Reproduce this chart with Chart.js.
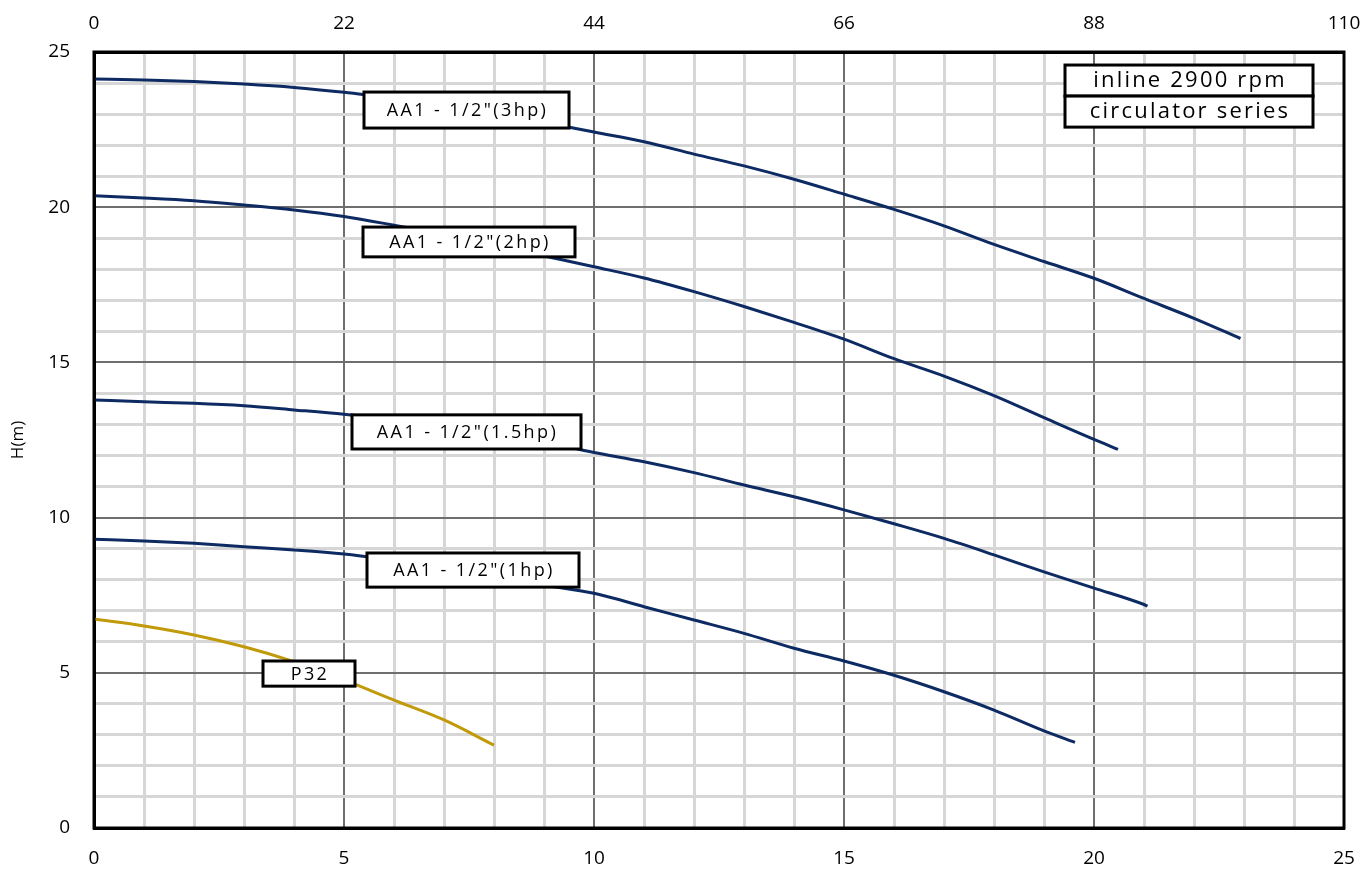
<!DOCTYPE html>
<html>
<head>
<meta charset="utf-8">
<script src="https://cdn.jsdelivr.net/npm/chart.js@4"></script>
<style>
  body { margin: 0; background: #fff; }
  canvas { display: block; }
</style>
</head>
<body>
<canvas id="pumpChart" width="1365" height="877"></canvas>
<script>
// Flow Q (m3/h, bottom axis) and head H (m)
const flow3hp = [0, 1, 2, 3, 4, 5, 6, 7, 8, 9, 10, 11, 12, 13, 14, 15, 16, 17, 18, 19, 20, 21, 22, 22.93];
const head3hp = [24.13, 24.10, 24.05, 23.97, 23.86, 23.70, 23.50, 23.28, 23.03, 22.74, 22.42, 22.11, 21.71, 21.33, 20.90, 20.42, 19.93, 19.40, 18.80, 18.25, 17.71, 17.06, 16.42, 15.77];

const flow2hp = [0, 1, 2, 3, 4, 5, 6, 7, 8, 9, 10, 11, 12, 13, 14, 15, 16, 17, 18, 19, 20, 20.48];
const head2hp = [20.37, 20.30, 20.21, 20.07, 19.91, 19.70, 19.42, 19.12, 18.78, 18.43, 18.08, 17.72, 17.28, 16.80, 16.29, 15.75, 15.12, 14.56, 13.93, 13.22, 12.52, 12.20];

const flow15hp = [0, 1, 2, 3, 4, 5, 6, 7, 8, 9, 10, 11, 12, 13, 14, 15, 16, 17, 18, 19, 20, 21, 21.07];
const head15hp = [13.79, 13.73, 13.68, 13.60, 13.47, 13.33, 13.15, 12.95, 12.72, 12.43, 12.10, 11.80, 11.45, 11.05, 10.67, 10.25, 9.80, 9.33, 8.80, 8.25, 7.73, 7.20, 7.15];

const flow1hp = [0, 1, 2, 3, 4, 5, 6, 7, 8, 9, 10, 11, 12, 13, 14, 15, 16, 17, 18, 19, 19.62];
const head1hp = [9.30, 9.25, 9.17, 9.06, 8.96, 8.83, 8.63, 8.41, 8.14, 7.83, 7.56, 7.13, 6.70, 6.27, 5.79, 5.38, 4.92, 4.39, 3.80, 3.13, 2.76];

const flowP32 = [0, 1, 2, 3, 4, 5, 6, 7, 8];
const headP32 = [6.73, 6.51, 6.22, 5.84, 5.36, 4.77, 4.12, 3.48, 2.67];

const seriesNames = ['AA1 - 1/2"(3hp)', 'AA1 - 1/2"(2hp)', 'AA1 - 1/2"(1.5hp)', 'AA1 - 1/2"(1hp)', 'P32'];

// axis ranges
const bottomMax = 25;
const topMax = 110;
const topStep = 22;
const headMax = 25;

// label boxes (in data units: q0, q1, h-top, h-bottom)
const curveLabels = [
  { text: seriesNames[0], q0: 5.40, q1: 9.50, hTop: 23.71, hBot: 22.55 },
  { text: seriesNames[1], q0: 5.38, q1: 9.62, hTop: 19.36, hBot: 18.40 },
  { text: seriesNames[2], q0: 5.16, q1: 9.74, hTop: 13.31, hBot: 12.21 },
  { text: seriesNames[3], q0: 5.46, q1: 9.70, hTop: 8.86, hBot: 7.76 },
  { text: seriesNames[4], q0: 3.38, q1: 5.22, hTop: 5.38, hBot: 4.57 }
];
const infoLines = ['inline 2900 rpm', 'circulator series'];

const navy = '#0d2a63';
const gold = '#c09a08';

function toPoints(qs, hs) {
  return qs.map((q, i) => ({ x: q, y: hs[i] }));
}

function makeSet(label, qs, hs, color) {
  return {
    label: label,
    data: toPoints(qs, hs),
    borderColor: color,
    borderWidth: 3,
    pointRadius: 0,
    fill: false,
    cubicInterpolationMode: 'monotone'
  };
}

function gridColor(ctx) {
  return ctx.tick && ctx.tick.value % 5 === 0 ? '#6e6e6e' : '#d6d6d6';
}
function gridWidth(ctx) {
  return ctx.tick && ctx.tick.value % 5 === 0 ? 2 : 3;
}

const tickFont = { family: 'Open Sans', size: 19 };

// Boxes, info panel and frame drawn on top of the curves
const overlayPlugin = {
  id: 'overlay',
  afterDatasetsDraw(chart) {
    const { ctx, chartArea, scales } = chart;
    const xs = scales.x, ys = scales.y;
    ctx.save();

    curveLabels.forEach(lb => {
      const x0 = xs.getPixelForValue(lb.q0), x1 = xs.getPixelForValue(lb.q1);
      const y0 = ys.getPixelForValue(lb.hTop), y1 = ys.getPixelForValue(lb.hBot);
      ctx.fillStyle = '#fff';
      ctx.fillRect(x0, y0, x1 - x0, y1 - y0);
      ctx.strokeStyle = '#000';
      ctx.lineWidth = 3;
      ctx.strokeRect(x0, y0, x1 - x0, y1 - y0);
      ctx.fillStyle = '#000';
      ctx.font = '18px "Open Sans"';
      ctx.letterSpacing = '2.4px';
      ctx.textAlign = 'center';
      ctx.textBaseline = 'middle';
      ctx.fillText(lb.text, (x0 + x1) / 2 + 1, (y0 + y1) / 2 + 1);
    });

    // info panel top right
    const ix0 = xs.getPixelForValue(19.42), ix1 = xs.getPixelForValue(24.38);
    const iy = [24.58, 23.58, 22.58].map(v => ys.getPixelForValue(v));
    for (let i = 0; i < infoLines.length; i++) {
      ctx.fillStyle = '#fff';
      ctx.fillRect(ix0, iy[i], ix1 - ix0, iy[i + 1] - iy[i]);
      ctx.strokeStyle = '#000';
      ctx.lineWidth = 3;
      ctx.strokeRect(ix0, iy[i], ix1 - ix0, iy[i + 1] - iy[i]);
      ctx.fillStyle = '#000';
      ctx.font = '22px "Open Sans"';
      ctx.letterSpacing = '2.2px';
      ctx.textAlign = 'center';
      ctx.textBaseline = 'middle';
      ctx.fillText(infoLines[i], (ix0 + ix1) / 2 + 1, (iy[i] + iy[i + 1]) / 2);
    }

    // plot frame
    ctx.letterSpacing = '0px';
    ctx.strokeStyle = '#000';
    ctx.lineWidth = 3;
    ctx.strokeRect(chartArea.left, chartArea.top, chartArea.right - chartArea.left, chartArea.bottom - chartArea.top);
    ctx.restore();
  }
};

// fixed axis sizes so the plot area sits where the original one does
function fitHorizontal(h) {
  return s => {
    s.height = h;
    s.paddingLeft = 0;
    s.paddingRight = 0;
  };
}

const chartCtx = document.getElementById('pumpChart').getContext('2d');
const pumpChart = new Chart(chartCtx, {
  type: 'line',
  data: {
    datasets: [
      makeSet(seriesNames[0], flow3hp, head3hp, navy),
      makeSet(seriesNames[1], flow2hp, head2hp, navy),
      makeSet(seriesNames[2], flow15hp, head15hp, navy),
      makeSet(seriesNames[3], flow1hp, head1hp, navy),
      makeSet(seriesNames[4], flowP32, headP32, gold)
    ]
  },
  options: {
    responsive: false,
    devicePixelRatio: 1,
    animation: false,
    layout: { padding: { left: 0, right: 21, top: 0, bottom: 0 } },
    plugins: {
      legend: { display: false },
      tooltip: { enabled: false }
    },
    scales: {
      x: {
        type: 'linear',
        position: 'bottom',
        min: 0,
        max: bottomMax,
        afterFit: fitHorizontal(49),
        ticks: {
          stepSize: 1,
          autoSkip: false,
          maxRotation: 0,
          padding: 19,
          color: '#000',
          font: tickFont,
          callback: v => (v % 5 === 0 ? v : '')
        },
        grid: { color: gridColor, lineWidth: gridWidth, drawTicks: false },
        border: { display: true, color: '#000', width: 3 }
      },
      xTop: {
        type: 'linear',
        position: 'top',
        min: 0,
        max: topMax,
        afterFit: fitHorizontal(52),
        ticks: {
          stepSize: topStep,
          maxRotation: 0,
          padding: 17,
          color: '#000',
          font: tickFont
        },
        grid: { display: false, drawTicks: false },
        border: { display: true, color: '#000', width: 3 }
      },
      y: {
        min: 0,
        max: headMax,
        afterFit: s => { s.width = 94; s.paddingTop = 0; s.paddingBottom = 0; },
        title: {
          display: true,
          text: 'H(m)',
          color: '#000',
          font: { family: 'Open Sans', size: 17 },
          padding: { top: 8, bottom: 4 }
        },
        ticks: {
          stepSize: 1,
          autoSkip: false,
          padding: 24,
          color: '#000',
          font: tickFont,
          callback: v => (v % 5 === 0 ? v : '')
        },
        grid: { color: gridColor, lineWidth: gridWidth, drawTicks: false },
        border: { display: true, color: '#000', width: 3 }
      }
    }
  },
  plugins: [overlayPlugin]
});
</script>
</body>
</html>
